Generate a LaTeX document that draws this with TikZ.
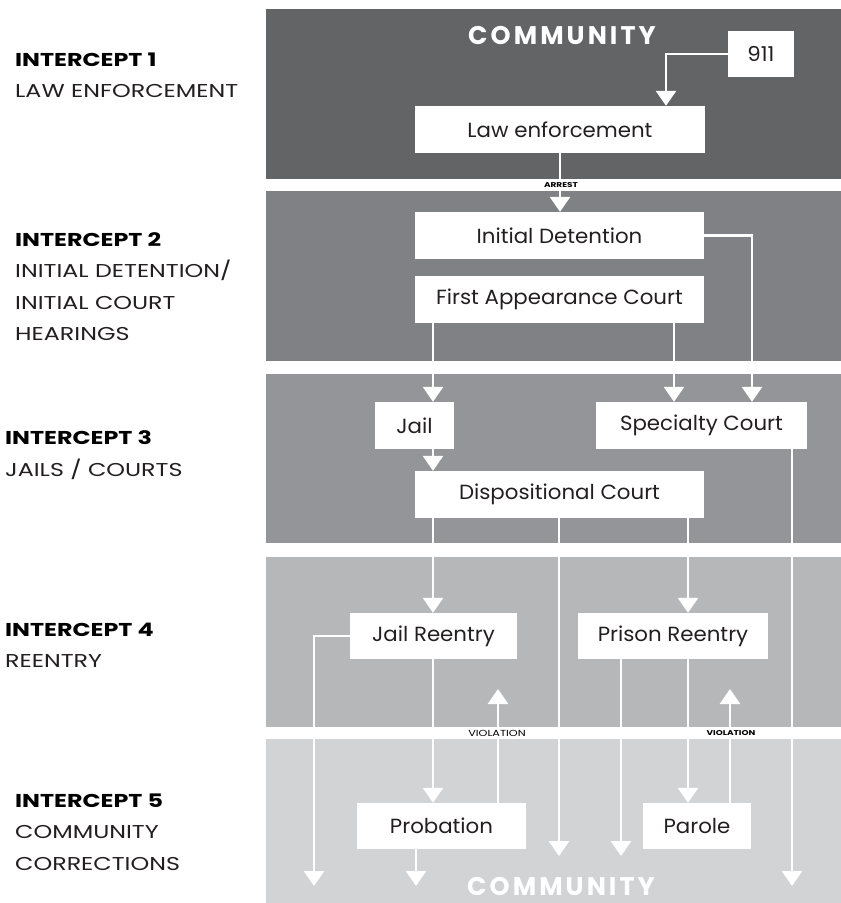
\documentclass[tikz,border=0pt]{standalone}
\usepackage{fontspec}
\setmainfont{Poppins}
\newfontfamily\capsfont{Poppins}[FakeStretch=1.28]
\newfontfamily\boxfont{Poppins}[FakeStretch=1.04]
\usetikzlibrary{arrows.meta}
\definecolor{bandA}{HTML}{636466}
\definecolor{bandB}{HTML}{808184}
\definecolor{bandC}{HTML}{949598}
\definecolor{bandD}{HTML}{B6B7B9}
\definecolor{bandE}{HTML}{D2D3D5}
\definecolor{txt}{HTML}{231F20}
\begin{document}
\begin{tikzpicture}[x=1pt,y=-1pt,
  box/.style={fill=white, inner sep=0pt, text=txt, minimum height=47pt, font=\boxfont\fontsize{20.5}{20.5}\selectfont},
  conn/.style={draw=white, line width=2.8pt, -{Triangle[length=15pt,width=20pt]}},
  lab/.style={anchor=base west, inner sep=0pt, text=txt, font=\capsfont\fontsize{18.6}{18.6}\selectfont},
  labb/.style={anchor=base west, inner sep=0pt, text=black, font=\capsfont\fontsize{18.6}{18.6}\selectfont\bfseries},
  comm/.style={inner sep=0pt, text=white, font=\fontsize{25.5}{25.5}\selectfont\bfseries\addfontfeature{LetterSpace=12}},
  tiny/.style={inner sep=0pt, text=black},
]
\useasboundingbox (0,0) rectangle (841,903);
\fill[white] (0,0) rectangle (841,903);
% bands
\fill[bandA] (266,9) rectangle (841,179);
\fill[bandB] (266,191) rectangle (841,361);
\fill[bandC] (266,374) rectangle (841,543);
\fill[bandD] (266,557) rectangle (841,727);
\fill[bandE] (266,739) rectangle (841,903);

% column coordinates
\coordinate (c314) at (314,0);
\coordinate (c416) at (416,0);
\coordinate (c433) at (433,0);
\coordinate (c498) at (498,0);
\coordinate (c559) at (559,0);
\coordinate (c621) at (621,0);
\coordinate (c666) at (666,0);
\coordinate (c674) at (674,0);
\coordinate (c688) at (688,0);
\coordinate (c730) at (730,0);
\coordinate (c752) at (752,0);
\coordinate (c792) at (792,0);
\coordinate (e314) at (314,886);
\coordinate (e416) at (416,886);
\coordinate (e559) at (559,856);
\coordinate (e621) at (621,856);
\coordinate (e792) at (792,886);
\coordinate (v1) at (498,689);
\coordinate (v2) at (730,689);

% titles
\node[comm] (commtop) at (562,36) {COMMUNITY};
\node[comm] (commbot) at (561,886) {COMMUNITY};

% boxes
\node[box, minimum width=66pt, minimum height=46pt] (n911) at (761,54) {911};
\node[box, minimum width=290pt] (le) at (560,129.5) {Law enforcement};
\node[box, minimum width=289pt] (id) at (559.5,235.5) {Initial Detention};
\node[box, minimum width=289pt] (fac) at (559.5,299.5) {First Appearance Court};
\node[box, minimum width=79pt] (jail) at (414.5,425.5) {Jail};
\node[box, minimum width=211pt] (sc) at (701.5,425.5) {Specialty Court};
\node[box, minimum width=289pt] (dc) at (559.5,494.5) {Dispositional Court};
\node[box, minimum width=167pt, minimum height=46pt] (jr) at (433.5,636) {Jail Reentry};
\node[box, minimum width=190pt, minimum height=46pt] (pr) at (673,636) {Prison Reentry};
\node[box, minimum width=169pt, minimum height=46pt] (prob) at (441.5,826) {Probation};
\node[box, minimum width=108pt, minimum height=46pt] (parole) at (697,826) {Parole};

% connectors
\draw[conn] (n911.west) -| (le.north -| c666);
\draw[conn] (le.south) -- (le.south |- id.north);
\draw[conn] (id.east) -| (sc.north -| c752);
\draw[conn] (fac.south -| c433) -- (jail.north -| c433);
\draw[conn] (fac.south -| c674) -- (sc.north -| c674);
\draw[conn] (jail.south -| c433) -- (dc.north -| c433);
\draw[conn] (dc.south -| c433) -- (jr.north -| c433);
\draw[conn] (dc.south -| c559) -- (e559);
\draw[conn] (dc.south -| c688) -- (pr.north -| c688);
\draw[conn] (sc.south -| c792) -- (e792);
\draw[conn] (jr.west) -| (e314);
\draw[conn] (jr.south -| c433) -- (prob.north -| c433);
\draw[conn] (prob.north -| c498) -- (v1);
\draw[conn] (pr.south -| c621) -- (e621);
\draw[conn] (pr.south -| c688) -- (parole.north -| c688);
\draw[conn] (parole.north -| c730) -- (v2);
\draw[conn] (prob.south -| c416) -- (e416);

% small labels
\node[tiny, font=\capsfont\fontsize{7}{7}\selectfont\bfseries] (arrest) at (561,185) {ARREST};
\node[tiny, font=\capsfont\fontsize{8.8}{8.8}\selectfont] (viol1) at (497,733) {VIOLATION};
\node[tiny, font=\capsfont\fontsize{7}{7}\selectfont\bfseries] (viol2) at (731,733) {VIOLATION};

% left labels
\node[labb] (i1) at (15,66.5) {INTERCEPT 1};
\node[lab] (i1a) at (15,97) {LAW ENFORCEMENT};
\node[labb] (i2) at (15,246.5) {INTERCEPT 2};
\node[lab] (i2a) at (15,277.5) {INITIAL DETENTION/};
\node[lab] (i2b) at (15,309.5) {INITIAL COURT};
\node[lab] (i2c) at (15,340.5) {HEARINGS};
\node[labb] (i3) at (5,444.5) {INTERCEPT 3};
\node[lab] (i3a) at (5,476.5) {JAILS / COURTS};
\node[labb] (i4) at (5,636.5) {INTERCEPT 4};
\node[lab] (i4a) at (5,667.5) {REENTRY};
\node[labb] (i5) at (15,807.5) {INTERCEPT 5};
\node[lab] (i5a) at (15,838.5) {COMMUNITY};
\node[lab] (i5b) at (15,870.5) {CORRECTIONS};
\end{tikzpicture}
\end{document}
